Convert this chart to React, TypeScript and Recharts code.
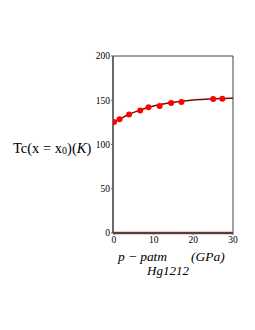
import React from "react";
import {
  ComposedChart,
  Line,
  Scatter,
  XAxis,
  YAxis,
  ReferenceArea,
  Customized,
} from "recharts";

// measured points (p - patm in GPa, Tc in K)
const pointP = [0, 1.4, 3.8, 6.6, 8.7, 11.5, 14.4, 17, 25, 27.3];
const pointTc = [125.3, 128.6, 134, 138.5, 142, 143.4, 146.8, 148, 151.3, 151.7];

// fitted curve
const curveP = [0, 2, 4, 6, 8, 10, 12, 14, 16, 18, 20, 22, 24, 26, 28, 30];
const curveTc = [125, 130, 134.5, 138, 141, 143.5, 145.5, 147, 148.3, 149.3, 150.2, 150.8, 151.3, 151.7, 152, 152.3];

// flat line along zero
const zeroP = [-0.25, 30];
const zeroTc = [0, 0];

const xTicks = [0, 10, 20, 30];
const yTicks = [0, 50, 100, 150, 200];

const points = pointP.map((p, i) => ({ p, tc: pointTc[i] }));
const curve = curveP.map((p, i) => ({ p, tc: curveTc[i] }));
const zero = zeroP.map((p, i) => ({ p, tc: zeroTc[i] }));

const serif = "'Liberation Serif', 'Times New Roman', serif";

const Dot = (props: any) => {
  const { cx, cy } = props;
  return <circle cx={cx} cy={cy} r={3} fill="#ff0000" />;
};

const Labels = () => (
  <g fontFamily={serif} fill="#000">
    <text x={13} y={153} fontSize={14.5}>
      Tc
      <tspan>(x = x</tspan>
      <tspan fontSize={10} dy={1}>0</tspan>
      <tspan dy={-1}>)(</tspan>
      <tspan fontStyle="italic">K</tspan>
      <tspan>)</tspan>
    </text>
    <text x={118} y={261} fontSize={13.5} fontStyle="italic" textLength={49} lengthAdjust="spacing">
      p − patm
    </text>
    <text x={191} y={261} fontSize={13.5} fontStyle="italic">
      (GPa)
    </text>
    <text x={168} y={275} fontSize={13} fontStyle="italic" textAnchor="middle">
      Hg1212
    </text>
  </g>
);

export default function App() {
  return (
    <div style={{ position: "absolute", left: 0, top: 0, background: "#fff" }}>
      <ComposedChart
        width={255}
        height={330}
        margin={{ top: 56, right: 22, bottom: 82, left: 83 }}
      >
        <XAxis
          dataKey="p"
          type="number"
          domain={[-0.25, 30]}
          ticks={xTicks}
          allowDataOverflow
          height={15}
          tickSize={2}
          tickMargin={1}
          axisLine={{ stroke: "#333" }}
          tickLine={{ stroke: "#666" }}
          tick={{ fontSize: 9.5, fontFamily: serif, fill: "#000" }}
          interval={0}
        />
        <YAxis
          dataKey="tc"
          type="number"
          domain={[0, 200]}
          ticks={yTicks}
          width={30}
          tickSize={2}
          tickMargin={1}
          axisLine={{ stroke: "#333" }}
          tickLine={{ stroke: "#666" }}
          tick={{ fontSize: 9.5, fontFamily: serif, fill: "#000" }}
          interval={0}
        />
        <ReferenceArea
          x1={-0.25}
          x2={30}
          y1={0}
          y2={200}
          fill="none"
          stroke="#444"
          strokeWidth={1}
          ifOverflow="extendDomain"
        />
        <Line
          data={zero}
          dataKey="tc"
          type="linear"
          stroke="#8b4545"
          strokeWidth={2.5}
          dot={false}
          isAnimationActive={false}
        />
        <Line
          data={curve}
          dataKey="tc"
          type="monotone"
          stroke="#7a0a0a"
          strokeWidth={1.5}
          dot={false}
          isAnimationActive={false}
        />
        <Scatter
          data={points}
          dataKey="tc"
          fill="#ff0000"
          shape={<Dot />}
          isAnimationActive={false}
        />
        <Customized component={Labels} />
      </ComposedChart>
    </div>
  );
}
